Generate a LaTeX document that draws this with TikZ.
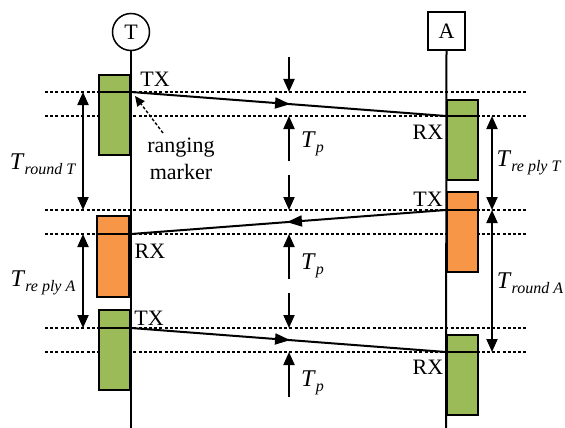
\documentclass[tikz,border=0pt]{standalone}
\usepackage{fontspec}
\setmainfont{Liberation Serif}
\usetikzlibrary{arrows.meta,decorations.markings}
\newcommand{\tsub}[1]{{\fontsize{24}{24}\selectfont\textit{T}}\raisebox{-0.45ex}{\fontsize{16}{16}\selectfont\textit{#1}}}
\begin{document}
\begin{tikzpicture}[x=1pt,y=-1pt,
  every node/.style={font=\fontsize{22}{24}\selectfont},
  life/.style={line width=2pt},
  gbox/.style={draw, line width=2pt, fill={rgb,255:red,155;green,187;blue,89}, minimum width=31pt, minimum height=80pt, inner sep=0pt},
  obox/.style={draw, line width=2pt, fill={rgb,255:red,247;green,150;blue,70}, minimum width=31pt, minimum height=80pt, inner sep=0pt},
  dline/.style={line width=1.3pt, dash pattern=on 3pt off 2.2pt},
  arr/.style={line width=2pt, -{Triangle[length=13pt,width=11pt]}},
  darr/.style={line width=2pt, {Triangle[length=13pt,width=11pt]}-{Triangle[length=13pt,width=11pt]}},
  msg/.style={line width=2pt, decoration={markings, mark=at position 0.505 with {\arrow{Triangle[length=15pt,width=11pt]}}}, postaction={decorate}},
  lbl/.style={inner sep=0pt}
]
\useasboundingbox (0,0) rectangle (565,428);
% header nodes
\node[circle, draw, line width=1.5pt, minimum size=37pt, inner sep=0pt] (T) at (131,32) {T};
\node[draw, line width=1.5pt, minimum width=37pt, minimum height=38pt, inner sep=0pt] (A) at (446.5,31) {A};
% dashed reference lines
\foreach \y in {92,116,210,234,328,352} \draw[dline] (45,\y) -- (527,\y);
% boxes on T
\node[gbox, anchor=north east] (tb1) at (131,74) {};
\node[obox, anchor=north east, minimum width=32pt, minimum height=81pt] (tb2) at (130,215) {};
\node[gbox, anchor=north east] (tb3) at (131,309) {};
% boxes on A
\node[gbox, anchor=north west] (ab1) at (446,99) {};
\node[obox, anchor=north west] (ab2) at (446,191) {};
\node[gbox, anchor=north west] (ab3) at (446,334) {};
% lifelines
\coordinate (Tend) at (131,428);
\coordinate (Aend) at (446,428);
\draw[life] (T.south) -- (Tend);
\draw[life] (A.south) -- (Aend);
% event points
\coordinate (t1) at (131,92);
\coordinate (a1) at (446,116);
\coordinate (a2) at (446,210);
\coordinate (t2) at (131,234);
\coordinate (t3) at (131,328);
\coordinate (a3) at (446,352);
% lines inside boxes
\draw[line width=2pt] (tb1.west |- t1) -- (t1);
\draw[line width=2pt] (tb2.west |- t2) -- (t2);
\draw[line width=2pt] (tb3.west |- t3) -- (t3);
\draw[line width=2pt] (a1) -- (ab1.east |- a1);
\draw[line width=2pt] (a2) -- (ab2.east |- a2);
\draw[line width=2pt] (a3) -- (ab3.east |- a3);
% messages
\draw[msg] (t1) -- (a1);
\draw[msg] (a2) -- (t2);
\draw[msg] (t3) -- (a3);
% TX / RX labels
\node[lbl] (tx1) at (155,79) {TX};
\node[lbl] (rx1) at (428,132) {RX};
\node[lbl] (tx2) at (428,199) {TX};
\node[lbl] (rx2) at (150,251) {RX};
\node[lbl] (tx3) at (149,318) {TX};
\node[lbl] (rx3) at (428,367) {RX};
% ranging marker
\node[lbl, align=center, font=\fontsize{22}{27}\selectfont] (rm) at (181,159) {ranging\\marker};
\coordinate (rmtail) at (163,133);
\coordinate (rmtip) at (135,96);
\draw[line width=1.4pt, dash pattern=on 3pt off 2pt, -{Triangle[length=10pt,width=9pt]}] (rmtail) -- (rmtip);
% Tp arrows
\coordinate (p1a) at (289,57); \coordinate (p1b) at (289,92);
\coordinate (p1c) at (289,161); \coordinate (p1d) at (289,116);
\coordinate (p2a) at (289,175); \coordinate (p2b) at (289,210);
\coordinate (p2c) at (289,279); \coordinate (p2d) at (289,234);
\coordinate (p3a) at (289,293); \coordinate (p3b) at (289,328);
\coordinate (p3c) at (289,397); \coordinate (p3d) at (289,352);
\draw[arr] (p1a) -- (p1b);
\draw[arr] (p1c) -- (p1d);
\draw[arr] (p2a) -- (p2b);
\draw[arr] (p2c) -- (p2d);
\draw[arr] (p3a) -- (p3b);
\draw[arr] (p3c) -- (p3d);
\node[lbl, anchor=west] (tp1) at (301,144) {\tsub{p}};
\node[lbl, anchor=west] (tp2) at (301,266) {\tsub{p}};
\node[lbl, anchor=west] (tp3) at (301,383) {\tsub{p}};
% interval arrows
\coordinate (l1a) at (83,92); \coordinate (l1b) at (83,210);
\coordinate (l2a) at (83,234); \coordinate (l2b) at (83,328);
\coordinate (r1a) at (492,116); \coordinate (r1b) at (492,210);
\coordinate (r2a) at (492,210); \coordinate (r2b) at (492,352);
\draw[darr] (l1a) -- (l1b);
\draw[darr] (l2a) -- (l2b);
\draw[darr] (r1a) -- (r1b);
\draw[darr] (r2a) -- (r2b);
\node[lbl] (trt) at (43,164) {\tsub{round T}};
\node[lbl] (tra) at (43,283) {\tsub{re ply A}};
\node[lbl] (tpt) at (529,163) {\tsub{re ply T}};
\node[lbl] (tna) at (530,283) {\tsub{round A}};
\end{tikzpicture}
\end{document}
